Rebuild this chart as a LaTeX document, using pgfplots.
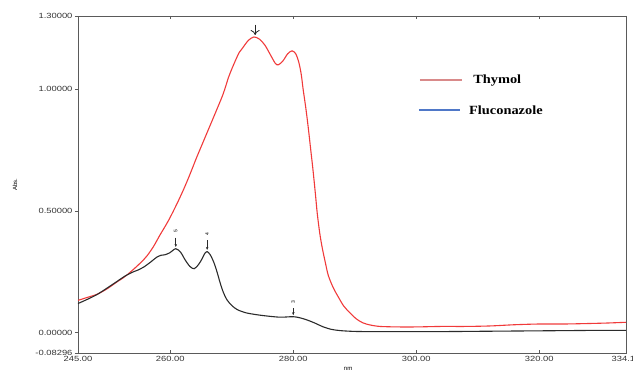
\documentclass[border=0pt]{standalone}
\usepackage{pgfplots}
\pgfplotsset{compat=1.18}
\usepackage{fontspec}
\setmainfont{Liberation Sans}
\newfontfamily\tickfont[FakeStretch=1.25]{Liberation Sans}
\newfontfamily\legfont[FakeStretch=1.15]{Liberation Serif}
\usetikzlibrary{arrows.meta}
\definecolor{thy}{HTML}{F03A3A}
\definecolor{flu}{HTML}{2B2B2B}
\definecolor{axc}{HTML}{5A5A5A}
\definecolor{legred}{HTML}{D98A8A}
\definecolor{legblue}{HTML}{4F78C8}
\pgfplotstableread{
x y
245 0.133
246.5 0.145
248.1 0.158
249.7 0.18
251.3 0.208
252.7 0.232
254.1 0.262
255.2 0.288
256.2 0.315
257.3 0.355
258.3 0.40
259.7 0.46
261.1 0.53
262.2 0.59
263.2 0.65
264.3 0.72
265.3 0.78
266.3 0.84
267.3 0.90
268.6 0.98
269.5 1.05
270.3 1.10
271.2 1.15
271.8 1.17
272.7 1.20
273.6 1.214
274.5 1.205
275.4 1.18
276.3 1.14
277.1 1.105
277.6 1.10
278.3 1.115
279.1 1.145
279.8 1.157
280.4 1.145
280.9 1.11
281.3 1.06
281.6 1.0
282.0 0.93
282.4 0.85
282.8 0.76
283.2 0.67
283.6 0.57
283.9 0.49
284.3 0.41
284.7 0.35
285.2 0.29
285.7 0.235
286.5 0.185
287.3 0.148
288.2 0.11
289.2 0.082
290.2 0.058
291.3 0.041
292.5 0.032
294.1 0.026
297 0.024
300 0.024
304 0.026
308 0.026
312 0.028
316 0.033
320 0.036
324 0.036
328 0.038
331 0.040
334.1 0.043
}\thymol
\pgfplotstableread{
x y
245 0.12
246.5 0.137
248.1 0.157
249.7 0.183
251.3 0.21
252.6 0.232
253.8 0.248
254.8 0.258
255.7 0.27
256.8 0.29
257.8 0.31
258.5 0.318
259.1 0.32
259.9 0.328
260.9 0.345
261.7 0.33
262.4 0.30
263.2 0.272
263.9 0.263
264.6 0.28
265.2 0.305
265.6 0.325
266.0 0.333
266.5 0.32
267.1 0.288
267.6 0.25
268.1 0.206
268.6 0.168
269.2 0.136
270.0 0.112
270.9 0.095
272.3 0.082
274.1 0.074
276 0.068
277.8 0.064
279 0.065
280 0.066
281 0.062
282.2 0.053
283.5 0.04
284.8 0.025
286.2 0.014
287.6 0.009
289.5 0.006
291.3 0.005
295 0.005
300 0.005
305 0.005
310 0.006
315 0.007
320 0.008
325 0.009
330 0.01
334.1 0.01
}\flucon
\begin{document}
\begin{tikzpicture}
\path[use as bounding box] (-78pt,-18pt) rectangle (555pt,353pt);
\begin{axis}[
  scale only axis,
  width=548pt, height=337pt,
  at={(0,0)}, anchor=south west,
  xmin=245, xmax=334.1, ymin=-0.08296, ymax=1.3,
  axis line style={axc, line width=0.9pt},
  xtick={245,260,280,300,320,334.1},
  xticklabels={245.00,260.00,280.00,300.00,320.00,334.10},
  ytick={-0.08296,0,0.5,1,1.3},
  yticklabels={-0.08296,0.00000,0.50000,1.00000,1.30000},
  tick label style={font=\tickfont\fontsize{7.5}{8}\selectfont, text=black!80},
  x tick style={axc, line width=0.8pt},
  y tick style={axc, line width=0.8pt},
  xtick pos=both, ytick pos=left,
  xtick align=inside, ytick align=outside,
  major tick length=3pt,
  yticklabel style={xshift=1pt},
  clip=false,
]
\addplot[thy, line width=1.1pt, smooth] table[x=x,y=y] {\thymol};
\addplot[flu, line width=1.1pt, smooth] table[x=x,y=y] {\flucon};
% legend (drawn as in the original: pale red and blue keys)
\draw[legred, line width=1.1pt] (rel axis cs:0.624,0.810) -- (rel axis cs:0.701,0.810);
\node[anchor=west, inner sep=0pt, font=\legfont\bfseries\fontsize{12.5}{13}\selectfont] at (rel axis cs:0.721,0.810) {Thymol};
\draw[legblue, line width=1.1pt] (rel axis cs:0.622,0.721) -- (rel axis cs:0.697,0.721);
\node[anchor=west, inner sep=0pt, font=\legfont\bfseries\fontsize{12.5}{13}\selectfont] at (rel axis cs:0.7135,0.721) {Fluconazole};
% axis labels
\node[rotate=90, font=\fontsize{6}{7}\selectfont] at ([xshift=-63pt]rel axis cs:0,0.5) {Abs.};
\node[font=\fontsize{6}{7}\selectfont] at ([yshift=-16pt]rel axis cs:0.493,0) {nm};
% peak annotations
\draw[-{Stealth[length=3pt,width=2.5pt]}, flu, line width=0.6pt] (axis cs:260.9,0.39) -- (axis cs:260.9,0.352);
\node[rotate=90, font=\fontsize{5}{5}\selectfont, anchor=west] at (axis cs:260.9,0.395) {5};
\draw[-{Stealth[length=3pt,width=2.5pt]}, flu, line width=0.6pt] (axis cs:266.0,0.38) -- (axis cs:266.0,0.340);
\node[rotate=90, font=\fontsize{5}{5}\selectfont, anchor=west] at (axis cs:266.0,0.385) {4};
\draw[-{Stealth[length=3pt,width=2.5pt]}, flu, line width=0.6pt] (axis cs:280.0,0.10) -- (axis cs:280.0,0.072);
\node[rotate=90, font=\fontsize{5}{5}\selectfont, anchor=west] at (axis cs:280.0,0.105) {3};
\draw[-{To[length=5pt,width=9pt]}, black!85, line width=0.8pt] (axis cs:273.8,1.265) -- (axis cs:273.8,1.222);
\end{axis}
\end{tikzpicture}
\end{document}
